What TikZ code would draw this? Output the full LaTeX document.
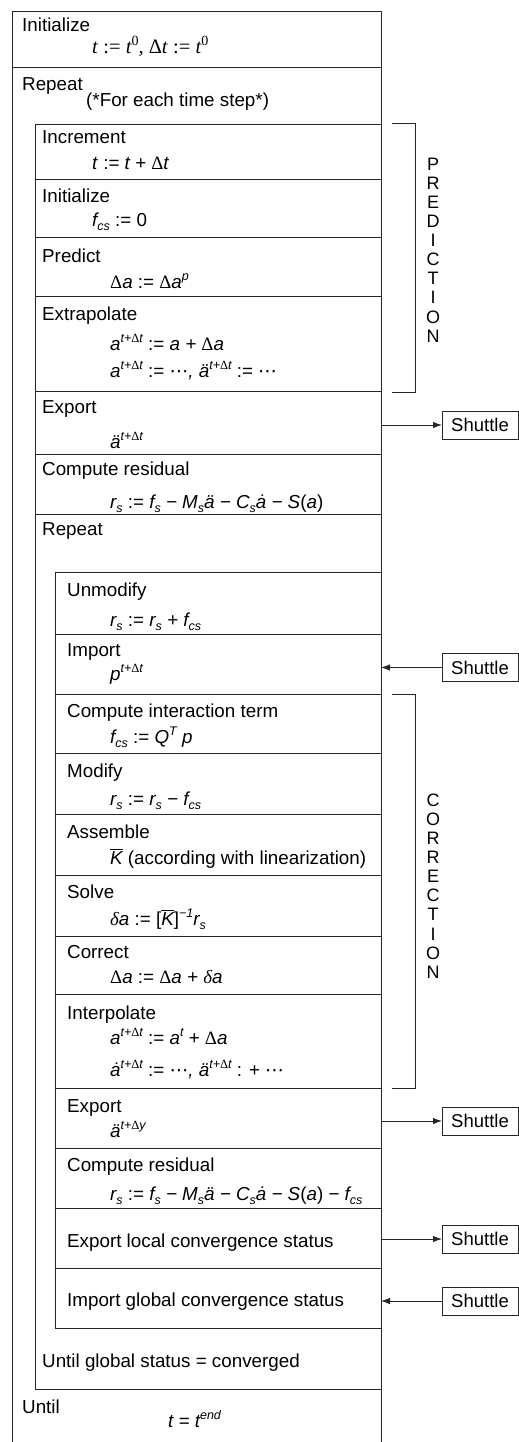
\documentclass[tikz,border=0pt]{standalone}
\usepackage{fontspec}
\setmainfont{Liberation Sans}
\newfontfamily\serifgr{Liberation Serif}
\newfontfamily\dejavu{DejaVu Sans}
\usetikzlibrary{arrows.meta}

% small helpers for the formulas (set as text, sans italic)
\newcommand\SupS[1]{\raisebox{7.5pt}{\fontsize{12.5}{12.5}\selectfont #1}}
\newcommand\SubS[1]{\raisebox{-4.5pt}{\fontsize{12.5}{12.5}\selectfont #1}}
\newcommand\Dl{{\serifgr\upshape Δ}}
\newcommand\dl{{\serifgr\itshape δ}}
\newcommand\cdt{{\dejavu\upshape ⋯}}
\newcommand\as{\textup{:=}}
\newcommand\Kbar{\ensuremath{\overline{\hbox{\itshape K}}}}

\tikzset{
  frame/.style={draw=black!85, line width=0.9pt},
  rowbox/.style={frame, rectangle, inner sep=0pt, outer sep=0pt, anchor=north west},
  lbl/.style={anchor=base west, inner sep=0pt, font=\fontsize{18.8}{22}\selectfont},
  fml/.style={anchor=base west, inner sep=0pt, font=\fontsize{18.8}{22}\selectfont\itshape},
  fmlserif/.style={anchor=base west, inner sep=0pt, font=\fontsize{20.5}{22}\selectfont\serifgr\itshape},
  shuttle/.style={frame, rectangle, inner sep=0pt, outer sep=0pt, anchor=west,
    minimum width=76pt, minimum height=28pt, font=\fontsize{18.5}{22}\selectfont},
  arr/.style={frame, -{Latex[length=9pt,width=6.5pt]}},
  vlabel/.style={align=center, inner sep=0pt, font=\fontsize{18}{19.1}\selectfont},
}

% a row of the structogram: name, left, top, right, bottom (pixel units)
\newcommand\rowat[5]{%
  \node[rowbox, minimum width={(#4-#2)*1pt}, minimum height={(#5-#3)*1pt}] (#1) at (#2,#3) {};}

\begin{document}
\begin{tikzpicture}[x=1pt, y=-1pt]
\useasboundingbox (0,0) rectangle (519,1442);

% ---- outermost loop frame (open at the bottom)
\draw[frame] (12,1444) -- (12,11) -- (381,11) -- (381,1444);
\rowat{init0}{12}{11}{381}{67}
\node[lbl] (t-init0) at (22,32) {Initialize};
\node[fmlserif] (f-init0) at (92,54) {t \as{} t\raisebox{8.5pt}{\fontsize{14}{14}\selectfont\upshape 0}, \Dl t \as{} t\raisebox{8.5pt}{\fontsize{14}{14}\selectfont\upshape 0}};
\node[lbl] (t-rep0) at (22,91) {Repeat};
\node[lbl] (t-rep0b) at (86,107) {(*For each time step*)};

% ---- time-step body
\rowat{body}{35}{124}{381}{1389}
\rowat{incr}{35}{124}{381}{179}
\rowat{init1}{35}{179}{381}{237}
\rowat{pred}{35}{237}{381}{296}
\rowat{extra}{35}{296}{381}{391}
\rowat{expo}{35}{391}{381}{454}
\rowat{resid}{35}{454}{381}{514}
\rowat{rep1}{35}{514}{381}{1389}

\node[lbl] (t-incr) at (42,144) {Increment};
\node[fml] (f-incr) at (92,170) {t \as{} t + \Dl t};
\node[lbl] (t-init1) at (42,202) {Initialize};
\node[fml] (f-init1) at (92,226) {f\SubS{cs} \as{} \textup{0}};
\node[lbl] (t-pred) at (42,262) {Predict};
\node[fml] (f-pred) at (110,288) {\Dl a \as{} \Dl a\SupS{p}};
\node[lbl] (t-extra) at (42,320) {Extrapolate};
\node[fml] (f-extra1) at (110,350) {a\SupS{t+\Dl t} \as{} a + \Dl a};
\node[fml] (f-extra2) at (110,377) {a\SupS{t+\Dl t} \as{} \cdt, ä\SupS{t+\Dl t} \as{} \cdt};
\node[lbl] (t-expo) at (42,413) {Export};
\node[fml] (f-expo) at (110,448) {ä\SupS{t+\Dl t}};
\node[lbl] (t-resid) at (42,475) {Compute residual};
\node[fml] (f-resid) at (110,508) {r\SubS{s} \as{} f\SubS{s} − M\SubS{s}ä − C\SubS{s}ȧ − S\textup{(}a\textup{)}};
\node[lbl] (t-rep1) at (42,535) {Repeat};
\node[lbl] (t-until1) at (42,1367) {Until global status = converged};

% ---- iteration body
\rowat{iter}{55}{572}{381}{1328}
\rowat{unmod}{55}{572}{381}{634}
\rowat{impo}{55}{634}{381}{694}
\rowat{inter}{55}{694}{381}{753}
\rowat{modi}{55}{753}{381}{814}
\rowat{asm}{55}{814}{381}{875}
\rowat{solv}{55}{875}{381}{936}
\rowat{corr}{55}{936}{381}{994}
\rowat{interp}{55}{994}{381}{1088}
\rowat{expo2}{55}{1088}{381}{1148}
\rowat{resid2}{55}{1148}{381}{1208}
\rowat{expc}{55}{1208}{381}{1268}
\rowat{impc}{55}{1268}{381}{1328}

\node[lbl] (t-unmod) at (67,596) {Unmodify};
\node[fml] (f-unmod) at (110,626) {r\SubS{s} \as{} r\SubS{s} + f\SubS{cs}};
\node[lbl] (t-impo) at (67,656) {Import};
\node[fml] (f-impo) at (110,680) {p\SupS{t+\Dl t}};
\node[lbl] (t-inter) at (67,717) {Compute interaction term};
\node[fml] (f-inter) at (110,743) {f\SubS{cs} \as{} Q\SupS{T} p};
\node[lbl] (t-modi) at (67,777) {Modify};
\node[fml] (f-modi) at (110,805) {r\SubS{s} \as{} r\SubS{s} − f\SubS{cs}};
\node[lbl] (t-asm) at (67,838) {Assemble};
\node[fml] (f-asm) at (110,864) {\Kbar{} \textup{(according with linearization)}};
\node[lbl] (t-solv) at (67,898) {Solve};
\node[fml] (f-solv) at (110,925) {\dl a \as{} \textup{[}\Kbar\textup{]}\SupS{−1}r\SubS{s}};
\node[lbl] (t-corr) at (67,958) {Correct};
\node[fml] (f-corr) at (110,983) {\Dl a \as{} \Dl a + \dl a};
\node[lbl] (t-interp) at (67,1019) {Interpolate};
\node[fml] (f-interp1) at (110,1044) {a\SupS{t+\Dl t} \as{} a\SupS{t} + \Dl a};
\node[fml] (f-interp2) at (110,1076) {ȧ\SupS{t+\Dl t} \as{} \cdt, ä\SupS{t+\Dl t} \textup{:} + \cdt};
\node[lbl] (t-expo2) at (67,1112) {Export};
\node[fml] (f-expo2) at (110,1137) {ä\SupS{t+\Dl y}};
\node[lbl] (t-resid2) at (67,1171) {Compute residual};
\node[fml] (f-resid2) at (110,1200) {r\SubS{s} \as{} f\SubS{s} − M\SubS{s}ä − C\SubS{s}ȧ − S\textup{(}a\textup{)} − f\SubS{cs}};
\node[lbl] (t-expc) at (67,1247) {Export local convergence status};
\node[lbl] (t-impc) at (67,1306) {Import global convergence status};

% ---- final condition of the outer loop
\node[lbl] (t-until0) at (22,1413) {Until};
\node[fml] (f-until0) at (168,1427) {t = t\SupS{end}};

% ---- phase brackets
\coordinate (pA) at (392,123);
\coordinate (pB) at (415,123);
\coordinate (pC) at (415,392);
\coordinate (pD) at (392,392);
\draw[frame] (pA) -- (pB) -- (pC) -- (pD);
\node[vlabel] (predlbl) at (433,250) {P\\R\\E\\D\\I\\C\\T\\I\\O\\N};

\coordinate (cA) at (392,694);
\coordinate (cB) at (415,694);
\coordinate (cC) at (415,1088);
\coordinate (cD) at (392,1088);
\draw[frame] (cA) -- (cB) -- (cC) -- (cD);
\node[vlabel] (corrlbl) at (433,886) {C\\O\\R\\R\\E\\C\\T\\I\\O\\N};

% ---- data exchange with the shuttle
\node[shuttle] (sh1) at (442,425) {Shuttle};
\node[shuttle] (sh2) at (442,667.5) {Shuttle};
\node[shuttle] (sh3) at (442,1121) {Shuttle};
\node[shuttle] (sh4) at (442,1239) {Shuttle};
\node[shuttle] (sh5) at (442,1301) {Shuttle};

\draw[arr] (sh1.west -| expo.east) -- (sh1.west);
\draw[arr] (sh2.west) -- (sh2.west -| impo.east);
\draw[arr] (sh3.west -| expo2.east) -- (sh3.west);
\draw[arr] (sh4.west -| expc.east) -- (sh4.west);
\draw[arr] (sh5.west) -- (sh5.west -| impc.east);
\end{tikzpicture}
\end{document}
